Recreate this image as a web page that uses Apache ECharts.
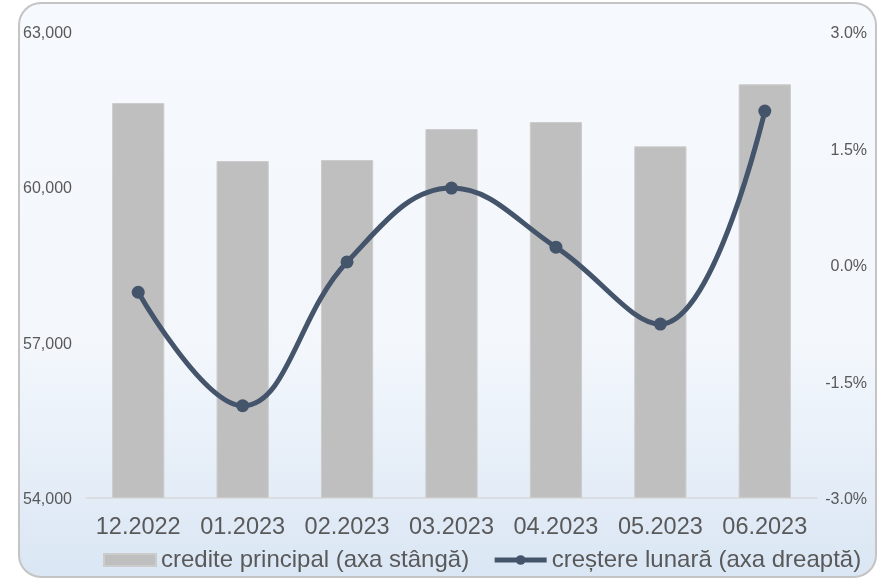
<!DOCTYPE html>
<html>
<head>
<meta charset="utf-8">
<script src="https://cdn.jsdelivr.net/npm/echarts@6/dist/echarts.min.js"></script>
<style>
  html, body { margin: 0; padding: 0; background: #ffffff; }
  #chart { width: 887px; height: 579px; }
</style>
</head>
<body>
<div id="chart"></div>
<script>
// Monthly labels
const months = ['12.2022', '01.2023', '02.2023', '03.2023', '04.2023', '05.2023', '06.2023'];
// Principal loans (left axis)
const principal = [61611, 60492, 60511, 61109, 61244, 60775, 61972];
// Monthly growth, % (right axis)
const growth = [-0.36, -1.82, 0.03, 0.98, 0.22, -0.77, 1.97];

const barName = 'credite principal (axa stângă)';
const lineName = 'creștere lunară (axa dreaptă)';

const labelColor = '#595959';
const lineColor = '#44546a';
const fontFamily = '"Liberation Sans", Arial, sans-serif';

// Axis tick labels sit slightly below their tick position
const tickRich = { t: { fontSize: 16, color: labelColor, fontFamily: fontFamily, padding: [5, 0, 0, 0] } };

const chart = echarts.init(document.getElementById('chart'), null, { renderer: 'canvas' });

chart.setOption({
  animation: false,
  textStyle: { fontFamily: fontFamily },
  graphic: [{
    type: 'rect',
    z: -10,
    silent: true,
    shape: { x: 19, y: 3, width: 857, height: 574, r: 22 },
    style: {
      fill: new echarts.graphic.LinearGradient(0, 0, 0, 1, [
        { offset: 0, color: '#f6f9fd' },
        { offset: 0.6, color: '#f3f7fc' },
        { offset: 1, color: '#dae6f4' }
      ]),
      stroke: '#c4c4c4',
      lineWidth: 2
    }
  }],
  grid: { left: 86, right: 70, top: 31, bottom: 81.5 },
  legend: {
    left: 103,
    top: 548,
    padding: 0,
    itemWidth: 52,
    itemHeight: 12,
    itemGap: 23,
    textStyle: { fontSize: 24, color: labelColor, fontFamily: fontFamily },
    data: [
      { name: barName, icon: 'rect' },
      { name: lineName, lineStyle: { width: 5 } }
    ]
  },
  xAxis: {
    type: 'category',
    data: months,
    axisTick: { show: false },
    axisLine: { onZero: false, lineStyle: { color: '#d9d9d9', width: 1.5 } },
    axisLabel: { interval: 0, fontSize: 23.5, color: labelColor, margin: 18, fontFamily: fontFamily }
  },
  yAxis: [{
    type: 'value',
    min: 54000,
    max: 63000,
    interval: 3000,
    splitLine: { show: false },
    axisLine: { show: false },
    axisTick: { show: false },
    axisLabel: {
      align: 'left',
      margin: 63,
      rich: tickRich,
      formatter: v => '{t|' + v.toLocaleString('en-US') + '}'
    }
  }, {
    type: 'value',
    min: -3,
    max: 3,
    interval: 1.5,
    splitLine: { show: false },
    axisLine: { show: false },
    axisTick: { show: false },
    axisLabel: {
      align: 'right',
      margin: 50,
      rich: tickRich,
      formatter: v => '{t|' + v.toFixed(1) + '%}'
    }
  }],
  series: [{
    name: barName,
    type: 'bar',
    yAxisIndex: 0,
    data: principal,
    barWidth: '50%',
    itemStyle: { color: '#bfbfbf', borderColor: '#cccccc', borderWidth: 1 }
  }, {
    name: lineName,
    type: 'line',
    yAxisIndex: 1,
    data: growth,
    smooth: 0.4,
    symbol: 'circle',
    symbolSize: 13,
    lineStyle: { color: lineColor, width: 5 },
    itemStyle: { color: lineColor }
  }]
});
</script>
</body>
</html>
